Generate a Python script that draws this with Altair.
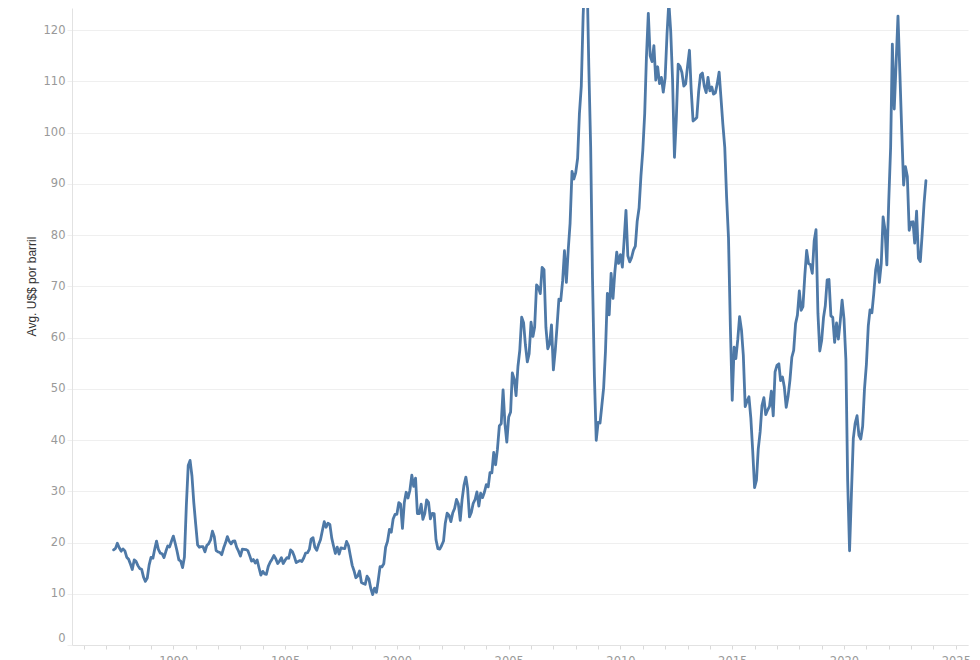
import altair as alt
import pandas as pd

# Monthly average Brent price (US$ per barrel), May 1987 - Sep 2023
start_month = "1987-05-01"

p1987 = [18.58, 18.86, 19.86, 18.98, 18.31, 18.76, 18.37, 17.14]
p1988 = [16.75, 15.74, 14.73, 16.60, 16.31, 15.49, 14.91, 14.77, 13.25, 12.42, 13.08, 15.58]
p1989 = [17.09, 16.95, 18.62, 20.26, 18.67, 17.93, 17.81, 17.06, 18.28, 19.34, 19.14, 20.24]
p1990 = [21.25, 19.81, 18.39, 16.61, 16.35, 15.10, 17.17, 27.17, 35.04, 36.02, 32.98, 27.78]
p1991 = [23.57, 19.54, 19.08, 19.18, 19.18, 18.17, 19.40, 19.77, 20.50, 22.21, 21.11, 18.41]
p1992 = [18.16, 18.05, 17.63, 18.92, 19.89, 21.16, 20.25, 19.74, 20.27, 20.29, 19.05, 18.31]
p1993 = [17.35, 18.69, 18.67, 18.62, 18.42, 17.44, 16.37, 16.67, 16.01, 16.58, 15.02, 13.64]
p1994 = [14.37, 13.89, 13.80, 15.34, 16.15, 16.74, 17.46, 16.84, 15.90, 16.35, 17.03, 15.90]
p1995 = [16.55, 17.05, 16.93, 18.56, 18.20, 17.25, 16.07, 16.28, 16.47, 16.30, 16.97, 17.92]
p1996 = [18.00, 18.65, 20.67, 20.94, 19.07, 18.47, 19.61, 20.55, 22.34, 24.06, 22.97, 23.76]
p1997 = [23.54, 20.86, 19.37, 17.86, 19.09, 17.72, 18.96, 18.85, 18.80, 20.20, 19.41, 17.47]
p1998 = [15.54, 14.45, 13.12, 13.48, 14.45, 12.20, 12.00, 11.84, 13.43, 12.86, 11.04, 9.82]
p1999 = [11.11, 10.27, 12.51, 15.29, 15.23, 15.86, 19.08, 20.22, 22.54, 22.01, 24.59, 25.47]
p2000 = [25.51, 27.78, 27.49, 22.76, 27.74, 29.80, 28.68, 30.20, 33.14, 30.96, 32.55, 25.66]
p2001 = [25.62, 27.50, 24.50, 25.66, 28.31, 27.85, 24.61, 25.68, 25.62, 20.54, 18.80, 18.71]
p2002 = [19.42, 20.28, 23.70, 25.73, 25.35, 24.08, 25.74, 26.65, 28.40, 27.54, 24.34, 28.33]
p2003 = [31.18, 32.77, 30.61, 25.00, 25.86, 27.65, 28.35, 29.89, 27.11, 29.61, 28.75, 29.81]
p2004 = [31.28, 30.86, 33.63, 33.59, 37.57, 35.18, 38.22, 42.74, 43.20, 49.78, 43.11, 39.60]
p2005 = [44.51, 45.48, 53.10, 51.88, 48.65, 54.35, 57.52, 63.98, 62.91, 58.54, 55.24, 56.86]
p2006 = [62.99, 60.21, 62.06, 70.26, 69.78, 68.56, 73.67, 73.23, 61.96, 57.81, 58.76, 62.47]
p2007 = [53.68, 57.56, 62.05, 67.49, 67.21, 71.05, 76.93, 70.76, 77.17, 82.34, 92.41, 90.93]
p2008 = [92.18, 94.99, 103.64, 109.07, 122.80, 132.32, 132.72, 113.24, 97.23, 71.58, 52.45, 39.95]
p2009 = [43.44, 43.32, 46.54, 50.18, 57.30, 68.61, 64.44, 72.51, 67.65, 72.77, 76.66, 74.46]
p2010 = [76.17, 73.75, 78.83, 84.82, 75.95, 74.76, 75.58, 77.04, 77.84, 82.67, 85.28, 91.45]
p2011 = [96.52, 103.72, 114.64, 123.26, 114.99, 113.83, 116.97, 110.22, 112.83, 109.55, 110.77, 107.87]
p2012 = [110.69, 119.33, 125.45, 119.75, 110.34, 95.16, 102.62, 113.36, 112.86, 111.71, 109.06, 109.49]
p2013 = [112.96, 116.05, 108.47, 102.25, 102.56, 102.92, 107.93, 111.28, 111.60, 109.08, 107.79, 110.76]
p2014 = [108.12, 108.90, 107.48, 107.76, 109.54, 111.80, 106.77, 101.61, 97.09, 87.43, 79.44, 62.34]
p2015 = [47.76, 58.10, 55.89, 59.52, 64.08, 61.48, 56.56, 46.52, 47.62, 48.43, 44.27, 38.01]
p2016 = [30.70, 32.18, 38.21, 41.58, 46.74, 48.25, 44.95, 45.84, 46.57, 49.52, 44.73, 53.31]
p2017 = [54.58, 54.87, 51.59, 52.31, 50.33, 46.37, 48.48, 51.70, 56.15, 57.51, 62.71, 64.37]
p2018 = [69.08, 65.32, 66.02, 72.11, 76.98, 74.41, 74.25, 72.53, 78.89, 81.03, 64.75, 57.36]
p2019 = [59.41, 63.96, 66.14, 71.23, 71.32, 64.22, 63.92, 59.04, 62.83, 59.71, 63.21, 67.31]
p2020 = [63.65, 55.66, 32.01, 18.38, 29.38, 40.27, 43.24, 44.74, 40.91, 40.19, 42.69, 49.99]
p2021 = [54.77, 62.28, 65.41, 64.81, 68.53, 73.16, 75.17, 70.75, 74.49, 83.54, 81.05, 74.17]
p2022 = [86.51, 97.13, 117.25, 104.58, 113.34, 122.71, 111.93, 100.45, 89.76, 93.33, 91.42, 80.92]
p2023 = [82.50, 82.59, 78.43, 84.64, 75.47, 74.84, 80.11, 86.15, 90.60]

y_ticks = [0, 10, 20, 30, 40, 50, 60, 70, 80, 90, 100, 110, 120]
x_tick_years = list(range(1986, 2026))

prices = (p1987 + p1988 + p1989 + p1990 + p1991 + p1992 + p1993 + p1994 + p1995
          + p1996 + p1997 + p1998 + p1999 + p2000 + p2001 + p2002 + p2003 + p2004
          + p2005 + p2006 + p2007 + p2008 + p2009 + p2010 + p2011 + p2012 + p2013
          + p2014 + p2015 + p2016 + p2017 + p2018 + p2019 + p2020 + p2021 + p2022
          + p2023)
months = pd.date_range(start_month, periods=len(prices), freq="MS").strftime("%Y-%m-%d")
df = pd.DataFrame({"Mes": list(months), "Preco": prices})

x_axis = alt.Axis(
    title="",
    values=[alt.DateTime(year=y, month=1, date=1, utc=True) for y in x_tick_years],
    labelExpr="utcyear(datum.value) % 5 === 0 ? utcFormat(datum.value, '%Y') : ''",
    grid=False,
    domainColor="#e2e2e2",
    tickColor="#d9d9d9",
    tickSize=4,
    labelColor="#999999",
    labelFont="DejaVu Sans",
    labelFontSize=11.5,
    labelPadding=6,
)

y_axis = alt.Axis(
    title="Avg. U$$ por barril",
    values=y_ticks,
    grid=True,
    gridColor="#efefef",
    gridWidth=1,
    domainColor="#e2e2e2",
    tickColor="#efefef",
    tickSize=5,
    labelColor="#999999",
    labelFont="DejaVu Sans",
    labelFontSize=11.5,
    labelPadding=2,
    labelBaseline={"condition": {"test": "datum.value === 0", "value": "alphabetic"}, "value": "middle"},
    labelOffset={"condition": {"test": "datum.value === 0", "value": -4}, "value": 0},
    titleFont="Liberation Sans",
    titleFontSize=12,
    titleFontWeight="normal",
    titleColor="#333333",
    titleAngle=270,
    titleAlign="center",
    titleBaseline="middle",
    titleX=-41,
    titleY=278,
)

chart = (
    alt.Chart(df)
    .mark_line(color="#4e79a7", strokeWidth=2.8, strokeJoin="round", strokeCap="round", clip=True)
    .encode(
        x=alt.X(
            "Mes:T",
            axis=x_axis,
            scale=alt.Scale(
                type="utc",
                domain=[
                    alt.DateTime(year=1985, month=6, date=20, utc=True),
                    alt.DateTime(year=2025, month=7, date=19, utc=True),
                ],
            ),
        ),
        y=alt.Y("Preco:Q", axis=y_axis, scale=alt.Scale(domain=[0, 124.3], nice=False, zero=True)),
    )
    .properties(
        width=896,
        height=637,
        padding={"left": 64, "top": 0, "right": 4, "bottom": 30},
        autosize=alt.AutoSizeParams(type="none"),
        background="white",
    )
    .configure_view(strokeWidth=0)
)

chart.save("out.html", embed_options={"renderer": "svg", "actions": False})
